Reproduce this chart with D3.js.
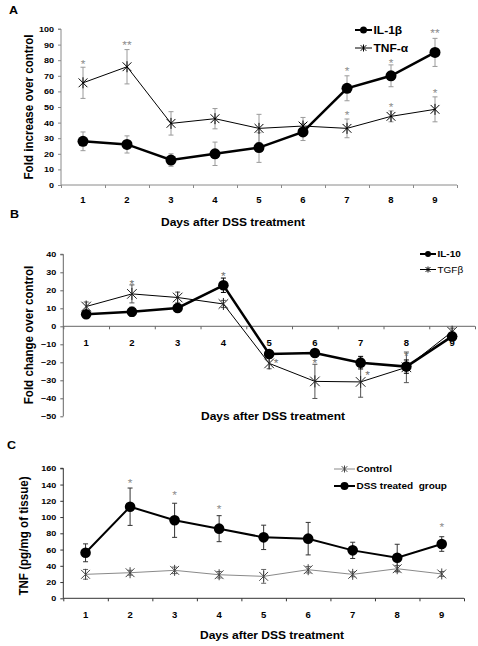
<!DOCTYPE html>
<html><head><meta charset="utf-8">
<script src="https://cdn.jsdelivr.net/npm/d3@7"></script>
<style>
html,body{margin:0;padding:0;background:#fff;}
svg{display:block;}
text{font-family:"Liberation Sans",Arial,sans-serif;}
</style></head>
<body>
<script>
// ---------- DATA ----------
const days = [1, 2, 3, 4, 5, 6, 7, 8, 9];

// Panel A
const ticksA = [0, 10, 20, 30, 40, 50, 60, 70, 80, 90, 100];
const il1b = [28, 26, 16, 20, 24, 34, 62, 70, 85];
const il1bErr = [6, 5.5, 4, 7.5, 9.5, 5.5, 8, 7, 9];
const tnfa = [65.5, 75.8, 39.5, 42.5, 36.3, 37.8, 36.3, 44, 48.5];
const tnfaErr = [10, 11, 7.5, 6.5, 9, 5.5, 6, 3.5, 8];
const starsA = [[1, "*", 79], [2, "**", 91.2], [7, "*", 74.4], [7, "*", 46.3], [8, "*", 79.5], [8, "*", 51.7], [9, "**", 98.9], [9, "*", 60.4]];

// Panel B
const ticksB = [-50, -40, -30, -20, -10, 0, 10, 20, 30, 40];
const il10 = [6.7, 8.1, 10.2, 22.8, -15.4, -14.8, -20.2, -22.4, -5.6];
const il10Err = [2, 2.5, 2, 4, 2, 2, 3.5, 3.7, 2];
const tgfb = [11, 18, 16, 12.4, -20.6, -30.6, -30.9, -22.8, -3];
const tgfbErr = [2.5, 5, 3, 2, 3, 9.5, 8.5, 8.5, 2];
const starsB = [[2, "*", 24.6, "c"], [4, "*", 29, "c"], [5, "*", -19.1, "r"], [6, "*", -19.3, "c"], [7, "*", -25.8, "r"], [8, "*", -15.4, "c"]];

// Panel C
const ticksC = [0, 20, 40, 60, 80, 100, 120, 140, 160];
const dss = [56, 112.7, 96, 85.7, 75, 73.4, 59, 50, 66.8];
const dssErr = [11, 23, 21, 16, 15, 20, 10, 16.5, 9];
const control = [29.5, 31.5, 34.4, 29, 27, 35.2, 29.5, 36.4, 30];
const controlErr = [6, 3, 4, 4, 8.5, 4, 3, 4, 3];
const starsC = [[2, "*", 144.7], [3, "*", 129.6], [4, "*", 112.7], [9, "*", 90.2]];

// ---------- DRAW ----------
const W = 478, H = 646, K = 0.86;
const svg = d3.select("body").append("svg").attr("width", W).attr("height", H);

function txt(g, x, y, s, o = {}) {
  const t = g.append("text")
    .attr("transform", `translate(${x},${y}) scale(1,${K})${o.rot ? " rotate(-90)" : ""}`)
    .attr("dy", o.dy || "0.35em")
    .attr("text-anchor", o.anchor || "middle")
    .attr("font-size", o.size || 9)
    .attr("font-weight", o.weight || "bold")
    .attr("fill", o.fill || "#000")
    .text(s);
  if (o.family) t.attr("font-family", o.family);
  if (o.pre) t.attr("xml:space", "preserve").style("white-space", "pre");
  return t;
}

function asterisk(g, x, y, s, color, sw) {
  const p = `M${x},${y - s}L${x},${y + s}M${x - s * 0.8},${y - s * 0.8}L${x + s * 0.8},${y + s * 0.8}M${x - s * 0.8},${y + s * 0.8}L${x + s * 0.8},${y - s * 0.8}`;
  g.append("path").attr("d", p).attr("stroke", color).attr("stroke-width", sw).attr("fill", "none");
}

function panel(cfg) {
  const g = svg.append("g");
  const x = d3.scaleBand().domain(days).range([cfg.x0, cfg.x1]).padding(0);
  const xl = d3.scaleLinear().domain([0, days.length]).range([cfg.x0, cfg.x1]);
  const y = d3.scaleLinear().domain(cfg.domain).range(cfg.yRange);
  const cx = d => x(d) + x.bandwidth() / 2;

  // y axis
  const ya = g.append("g").attr("transform", `translate(${cfg.x0},0)`)
    .call(d3.axisLeft(y).tickValues(cfg.ticks).tickSize(3).tickPadding(4).tickFormat(d3.format("d")));
  ya.select(".domain").attr("stroke", cfg.axisColor).attr("d", `M-3,${y(cfg.domain[1])}H0V${y(cfg.domain[0])}`);
  ya.selectAll(".tick line").attr("stroke", cfg.axisColor);
  ya.selectAll(".tick text").attr("font-size", 9).attr("font-weight", "bold").attr("fill", "#000")
    .attr("font-family", "Liberation Sans, Arial, sans-serif")
    .attr("transform", `scale(1,${K})`);

  // x axis at y = 0
  const xa = g.append("g").attr("transform", `translate(0,${y(0)})`)
    .call(d3.axisBottom(xl).tickValues(d3.range(0, days.length + 1)).tickSize(3).tickFormat(""));
  xa.select(".domain").attr("stroke", cfg.axisColor).attr("d", `M${cfg.x0},0H${cfg.x1}`);
  xa.selectAll(".tick line").attr("stroke", cfg.axisColor);

  // x tick labels
  days.forEach(d => txt(g, cx(d), cfg.xLabY, String(d), { size: 9.5 }));

  // titles
  txt(g, cfg.xtX, cfg.xtY, "Days after DSS treatment", { size: 12 });
  txt(g, cfg.ytX, cfg.ytY, cfg.yTitle, { size: 13.5, rot: true });
  txt(g, cfg.lx, cfg.ly, cfg.letter, { size: 12.5, family: "Liberation Serif, Times New Roman, serif", anchor: "start" });

  // series
  cfg.series.forEach(s => {
    const eg = g.append("g").attr("stroke", s.errColor).attr("stroke-width", 1);
    days.forEach((d, i) => {
      const xx = cx(d), t = y(s.values[i] + s.err[i]), b = y(s.values[i] - s.err[i]);
      eg.append("line").attr("x1", xx).attr("x2", xx).attr("y1", t).attr("y2", b);
      eg.append("line").attr("x1", xx - 2.5).attr("x2", xx + 2.5).attr("y1", t).attr("y2", t);
      eg.append("line").attr("x1", xx - 2.5).attr("x2", xx + 2.5).attr("y1", b).attr("y2", b);
    });
  });
  cfg.series.forEach(s => {
    const line = d3.line().x((v, i) => cx(days[i])).y(v => y(v));
    g.append("path").datum(s.values).attr("d", line).attr("fill", "none")
      .attr("stroke", s.color).attr("stroke-width", s.width);
    s.values.forEach((v, i) => {
      if (s.marker === "circle") g.append("circle").attr("cx", cx(days[i])).attr("cy", y(v)).attr("r", s.r).attr("fill", s.markColor);
      else asterisk(g, cx(days[i]), y(v), s.r, s.markColor, 1);
    });
  });

  // significance stars
  cfg.stars.forEach(st => {
    const dx = st[3] === "r" ? 7 : 0;
    txt(g, cx(st[0]) + dx, y(st[2]), st[1], { size: 12, weight: "normal", fill: cfg.starColor, dy: "0.6em" });
  });

  // legend
  cfg.legend.forEach(l => {
    g.append("line").attr("x1", l.x1).attr("x2", l.x2).attr("y1", l.y).attr("y2", l.y)
      .attr("stroke", l.color).attr("stroke-width", l.width);
    const mx = (l.x1 + l.x2) / 2;
    if (l.marker === "circle") g.append("circle").attr("cx", mx).attr("cy", l.y).attr("r", l.r).attr("fill", "#000");
    else asterisk(g, mx, l.y, l.r, l.mcolor || "#000", 1);
    txt(g, l.x2 + 1.5, l.y, l.label, { size: l.size, anchor: "start", weight: l.weight || "bold", pre: true });
  });
}

// Panel A
panel({
  x0: 61, x1: 457, domain: [0, 100], yRange: [185, 29], ticks: ticksA, axisColor: "#8a8a8a", starColor: "#8c8c8c",
  xLabY: 200, xtX: 233, xtY: 222, ytX: 28, ytY: 107, yTitle: "Fold increase over control",
  letter: "A", lx: 9, ly: 10,
  series: [
    { values: tnfa, err: tnfaErr, color: "#000", width: 1, marker: "star", r: 5.5, markColor: "#000", errColor: "#9a9a9a" },
    { values: il1b, err: il1bErr, color: "#000", width: 2.5, marker: "circle", r: 5.5, markColor: "#000", errColor: "#9a9a9a" }
  ],
  stars: starsA,
  legend: [
    { x1: 355, x2: 372, y: 30, color: "#000", width: 2, marker: "circle", r: 3.5, label: "IL-1β", size: 12 },
    { x1: 355, x2: 372, y: 48, color: "#000", width: 1, marker: "star", r: 3.5, label: "TNF-α", size: 12 }
  ]
});

// Panel B
panel({
  x0: 63.3, x1: 475, domain: [-50, 40], yRange: [416.3, 254.3], ticks: ticksB, axisColor: "#666", starColor: "#707070",
  xLabY: 343, xtX: 273, xtY: 416, ytX: 28, ytY: 335, yTitle: "Fold change over control",
  letter: "B", lx: 10, ly: 214,
  series: [
    { values: tgfb, err: tgfbErr, color: "#000", width: 1, marker: "star", r: 6, markColor: "#222", errColor: "#555" },
    { values: il10, err: il10Err, color: "#000", width: 2.5, marker: "circle", r: 5.3, markColor: "#000", errColor: "#000" }
  ],
  stars: starsB,
  legend: [
    { x1: 420, x2: 436, y: 254, color: "#000", width: 2, marker: "circle", r: 3, label: "IL-10", size: 10 },
    { x1: 420, x2: 436, y: 269.5, color: "#000", width: 1, marker: "star", r: 3, label: "TGFβ", size: 10, weight: "normal" }
  ]
});

// Panel C
panel({
  x0: 63.3, x1: 464, domain: [0, 160], yRange: [598.3, 468.3], ticks: ticksC, axisColor: "#333", starColor: "#8c8c8c",
  xLabY: 615, xtX: 272, xtY: 635, ytX: 23.5, ytY: 536, yTitle: "TNF (pg/mg of tissue)",
  letter: "C", lx: 7, ly: 445,
  series: [
    { values: control, err: controlErr, color: "#8a8a8a", width: 1, marker: "star", r: 5.5, markColor: "#444", errColor: "#666" },
    { values: dss, err: dssErr, color: "#000", width: 2, marker: "circle", r: 5.3, markColor: "#000", errColor: "#333" }
  ],
  stars: starsC,
  legend: [
    { x1: 334, x2: 355, y: 469, color: "#8a8a8a", width: 1, marker: "star", r: 3.5, mcolor: "#444", label: "Control", size: 10 },
    { x1: 334, x2: 355, y: 486, color: "#000", width: 2, marker: "circle", r: 4, label: "DSS treated  group", size: 10 }
  ]
});
</script>
</body></html>
